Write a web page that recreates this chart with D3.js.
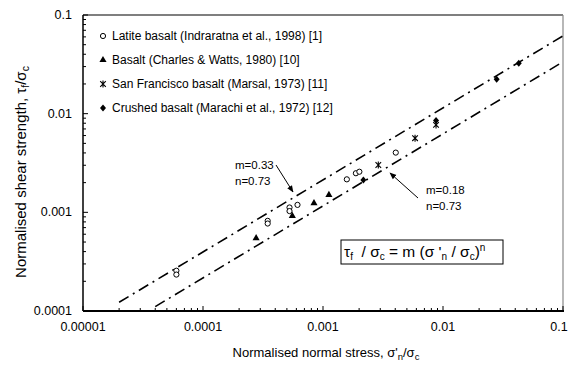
<!DOCTYPE html>
<meta charset="utf-8">
<style>
    body { margin: 0; overflow: hidden; background: #fff; }
    text { font-family: "Liberation Sans", Arial, sans-serif; fill: #000; white-space: pre; }
</style>
<svg id="canvas" width="570" height="365"></svg>
<script src="https://d3js.org/d3.v7.min.js"></script>
<script>

    // Latite basalt (Indraratna et al., 1998) - open circles
    var latiteX = [6.0e-5, 6.0e-5, 3.46e-4, 3.46e-4, 5.26e-4, 5.26e-4, 6.13e-4, 1.58e-3, 1.88e-3, 2.01e-3, 4.04e-3];
    var latiteY = [2.56e-4, 2.34e-4, 8.2e-4, 7.7e-4, 1.12e-3, 1.03e-3, 1.19e-3, 2.16e-3, 2.49e-3, 2.58e-3, 4.03e-3];
    // Basalt (Charles & Watts, 1980) - filled triangles
    var basaltX = [2.77e-4, 5.55e-4, 8.41e-4, 1.12e-3];
    var basaltY = [5.47e-4, 9.2e-4, 1.24e-3, 1.50e-3];
    // San Francisco basalt (Marsal, 1973) - asterisks
    var sanfranX = [2.89e-3, 5.85e-3, 8.75e-3];
    var sanfranY = [3.02e-3, 5.64e-3, 7.69e-3];
    // Crushed basalt (Marachi et al., 1972) - filled diamonds
    var crushedX = [2.17e-3, 8.75e-3, 0.028, 0.0428];
    var crushedY = [2.13e-3, 8.53e-3, 0.0223, 0.0324];

    // fitted envelopes tau/sc = m (s'n/sc)^n
    var fitM = [0.33, 0.18];
    var fitN = [0.73, 0.73];
    var fitStart = [2e-5, 4e-5];
    var fitEnd = [0.1, 0.1];

    var xTicks = [1e-5, 1e-4, 1e-3, 1e-2, 1e-1];
    var xTickLabels = ["0.00001", "0.0001", "0.001", "0.01", "0.1"];
    var yTicks = [1e-4, 1e-3, 1e-2, 1e-1];
    var yTickLabels = ["0.0001", "0.001", "0.01", "0.1"];

    var legendNames = [
        "Latite basalt (Indraratna et al., 1998) [1]",
        "Basalt (Charles & Watts, 1980) [10]",
        "San Francisco basalt (Marsal, 1973) [11]",
        "Crushed basalt (Marachi et al., 1972) [12]"
    ];

    var svg = d3.select("svg");
    var pLeft = 83, pRight = 563, pTop = 15, pBottom = 311;

    var x = d3.scaleLog().domain([1e-5, 0.1]).range([pLeft, pRight]);
    var y = d3.scaleLog().domain([1e-4, 0.1]).range([pBottom, pTop]);

    // frame
    svg.append("line").attr("x1", pLeft).attr("x2", pRight).attr("y1", pTop).attr("y2", pTop)
       .attr("stroke", "#000").attr("stroke-width", 1.2);
    svg.append("line").attr("x1", pRight).attr("x2", pRight).attr("y1", pTop).attr("y2", pBottom)
       .attr("stroke", "#888").attr("stroke-width", 1.2);

    // minor ticks
    var minors = function(lo, hi) {
        var out = [];
        for (var e = lo; e < hi; e++) {
            for (var k = 2; k <= 9; k++) out.push(k * Math.pow(10, e));
        }
        return out;
    };

    var gx = svg.append("g");
    gx.selectAll("line.minor").data(minors(-5, -1)).enter().append("line")
      .attr("x1", function(d) { return x(d); }).attr("x2", function(d) { return x(d); })
      .attr("y1", pBottom).attr("y2", pBottom - 3)
      .attr("stroke", "#000").attr("stroke-width", 1);
    gx.selectAll("line.major").data(xTicks).enter().append("line")
      .attr("x1", function(d) { return x(d); }).attr("x2", function(d) { return x(d); })
      .attr("y1", pBottom).attr("y2", pBottom - 5)
      .attr("stroke", "#000").attr("stroke-width", 1);
    gx.selectAll("text").data(xTicks).enter().append("text")
      .attr("x", function(d) { return Math.min(x(d), 559); }).attr("y", pBottom + 20)
      .attr("text-anchor", "middle").attr("font-size", 12.5)
      .text(function(d, i) { return xTickLabels[i]; });

    var gy = svg.append("g");
    gy.selectAll("line.minor").data(minors(-4, -1)).enter().append("line")
      .attr("x1", pLeft).attr("x2", pLeft + 3)
      .attr("y1", function(d) { return y(d); }).attr("y2", function(d) { return y(d); })
      .attr("stroke", "#000").attr("stroke-width", 1);
    gy.selectAll("line.major").data(yTicks).enter().append("line")
      .attr("x1", pLeft).attr("x2", pLeft + 5)
      .attr("y1", function(d) { return y(d); }).attr("y2", function(d) { return y(d); })
      .attr("stroke", "#000").attr("stroke-width", 1);
    gy.selectAll("text").data(yTicks).enter().append("text")
      .attr("x", pLeft - 11).attr("y", function(d) { return y(d) + 4; })
      .attr("text-anchor", "end").attr("font-size", 12.5)
      .text(function(d, i) { return yTickLabels[i]; });

    // axis lines
    svg.append("line").attr("x1", pLeft).attr("x2", pRight + 1).attr("y1", pBottom).attr("y2", pBottom)
       .attr("stroke", "#000").attr("stroke-width", 2);
    svg.append("line").attr("x1", pLeft).attr("x2", pLeft).attr("y1", pTop).attr("y2", pBottom)
       .attr("stroke", "#000").attr("stroke-width", 1.5);

    // fitted lines
    var line = d3.line().x(function(d) { return x(d[0]); }).y(function(d) { return y(d[1]); });
    fitM.forEach(function(m, i) {
        var pts = [fitStart[i], fitEnd[i]].map(function(v) { return [v, m * Math.pow(v, fitN[i])]; });
        svg.append("path").attr("d", line(pts)).attr("fill", "none")
           .attr("stroke", "#000").attr("stroke-width", 1.6)
           .attr("stroke-dasharray", "11,5,2,5");
    });

    // marker shapes
    var triangle = d3.symbol().type(d3.symbolTriangle).size(22);
    var diamond = "M0,-3.5L3,0L0,3.5L-3,0Z";
    var star = "M-2.8,-2.8L2.8,2.8M-2.8,2.8L2.8,-2.8M0,-3.5L0,3.5";

    var drawMarker = function(g, kind, cx, cy) {
        if (kind === 0) {
            g.append("circle").attr("cx", cx).attr("cy", cy).attr("r", 2.6)
             .attr("fill", "#fff").attr("stroke", "#000").attr("stroke-width", 1);
        } else if (kind === 1) {
            g.append("path").attr("d", triangle()).attr("transform", "translate(" + cx + "," + cy + ")")
             .attr("fill", "#000");
        } else if (kind === 2) {
            g.append("path").attr("d", star).attr("transform", "translate(" + cx + "," + cy + ")")
             .attr("fill", "none").attr("stroke", "#000").attr("stroke-width", 1.1);
        } else {
            g.append("path").attr("d", diamond).attr("transform", "translate(" + cx + "," + cy + ")")
             .attr("fill", "#000");
        }
    };

    var series = [[latiteX, latiteY], [basaltX, basaltY], [sanfranX, sanfranY], [crushedX, crushedY]];
    var gp = svg.append("g");
    series.forEach(function(s, k) {
        s[0].forEach(function(v, i) { drawMarker(gp, k, x(v), y(s[1][i])); });
    });

    // legend
    var gl = svg.append("g");
    legendNames.forEach(function(name, i) {
        var ly = 36 + i * 24;
        drawMarker(gl, i, 103, ly);
        gl.append("text").attr("x", 112).attr("y", ly + 4).attr("font-size", 12).text(name);
    });

    // annotations
    svg.append("defs").append("marker").attr("id", "arrow").attr("viewBox", "0 0 10 10")
       .attr("refX", 9).attr("refY", 5).attr("markerWidth", 7).attr("markerHeight", 7)
       .attr("orient", "auto")
       .append("path").attr("d", "M0,1L10,5L0,9Z").attr("fill", "#000");

    var note = function(tx, ty, lines, ax1, ay1, ax2, ay2) {
        lines.forEach(function(t, i) {
            svg.append("text").attr("x", tx).attr("y", ty + i * 16).attr("font-size", 11.5).text(t);
        });
        svg.append("line").attr("x1", ax1).attr("y1", ay1).attr("x2", ax2).attr("y2", ay2)
           .attr("stroke", "#000").attr("stroke-width", 1).attr("marker-end", "url(#arrow)");
    };
    note(235, 169, ["m=0.33", "n=0.73"], 276, 165, 293, 192);
    note(426, 194, ["m=0.18", "n=0.73"], 418, 198, 390, 173);

    // equation box
    svg.append("rect").attr("x", 341).attr("y", 240).attr("width", 162).attr("height", 24)
       .attr("fill", "#fff").attr("stroke", "#000").attr("stroke-width", 1);
    var eq = svg.append("text").attr("x", 344).attr("y", 257).attr("font-size", 15.5);
    eq.append("tspan").text("τ");
    eq.append("tspan").attr("font-size", 10).attr("dy", 3).text("f");
    eq.append("tspan").attr("dy", -3).text("  / σ");
    eq.append("tspan").attr("font-size", 10).attr("dy", 3).text("c");
    eq.append("tspan").attr("dy", -3).text(" = m (σ '");
    eq.append("tspan").attr("font-size", 10).attr("dy", 3).text("n");
    eq.append("tspan").attr("dy", -3).text(" / σ");
    eq.append("tspan").attr("font-size", 10).attr("dy", 3).text("c");
    eq.append("tspan").attr("dy", -3).text(")");
    eq.append("tspan").attr("font-size", 10).attr("dy", -6).text("n");

    // axis titles
    var xt = svg.append("text").attr("x", 326).attr("y", 357).attr("text-anchor", "middle").attr("font-size", 13);
    xt.append("tspan").text("Normalised normal stress, σ'");
    xt.append("tspan").attr("font-size", 9.5).attr("dy", 3).text("n");
    xt.append("tspan").attr("dy", -3).text("/σ");
    xt.append("tspan").attr("font-size", 9.5).attr("dy", 3).text("c");

    var yt = svg.append("text").attr("transform", "translate(26,172) rotate(-90)")
                .attr("text-anchor", "middle").attr("font-size", 15);
    yt.append("tspan").text("Normalised shear strength, τ");
    yt.append("tspan").attr("font-size", 10.5).attr("dy", 3).text("f");
    yt.append("tspan").attr("dy", -3).text("/σ");
    yt.append("tspan").attr("font-size", 10.5).attr("dy", 3).text("c");

</script>
